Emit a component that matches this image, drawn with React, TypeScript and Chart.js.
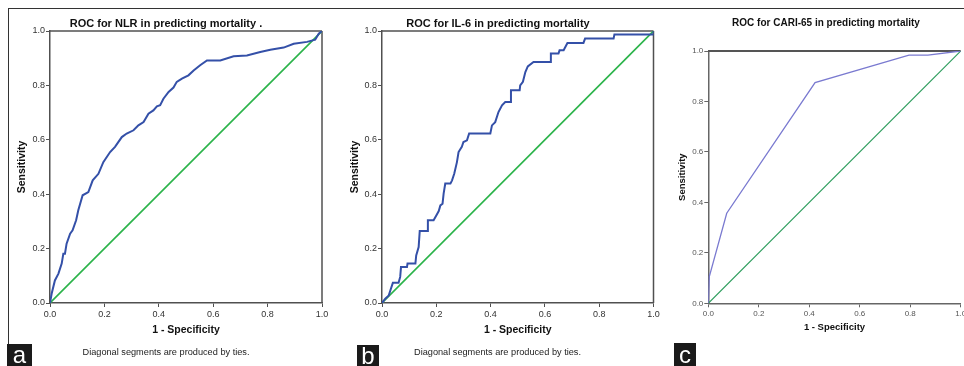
import React, { useEffect, useRef } from "react";
import { Chart, registerables } from "chart.js";

Chart.register(...registerables);

const FONT = "'Liberation Sans', Arial, Helvetica, sans-serif";

// ---------- data ----------
// Panel a: ROC for NLR
const nlrFpr = [0, 0.006, 0.018, 0.031, 0.043, 0.049, 0.055, 0.061, 0.074, 0.083, 0.096, 0.104, 0.12, 0.141, 0.157, 0.178, 0.196, 0.221, 0.239, 0.264, 0.282, 0.307, 0.325, 0.344, 0.362, 0.38, 0.393, 0.405, 0.417, 0.436, 0.454, 0.466, 0.485, 0.509, 0.528, 0.552, 0.577, 0.626, 0.675, 0.724, 0.773, 0.81, 0.859, 0.896, 0.945, 0.975, 0.988, 1];
const nlrTpr = [0, 0.034, 0.083, 0.108, 0.145, 0.181, 0.181, 0.218, 0.255, 0.267, 0.304, 0.341, 0.396, 0.408, 0.451, 0.475, 0.518, 0.555, 0.574, 0.61, 0.623, 0.635, 0.653, 0.665, 0.696, 0.708, 0.723, 0.727, 0.751, 0.776, 0.792, 0.813, 0.825, 0.837, 0.855, 0.874, 0.892, 0.892, 0.907, 0.91, 0.923, 0.931, 0.939, 0.953, 0.96, 0.968, 0.99, 1];

// Panel b: ROC for IL-6
const il6Fpr = [0, 0.012, 0.025, 0.031, 0.04, 0.061, 0.067, 0.07, 0.092, 0.094, 0.123, 0.126, 0.135, 0.139, 0.166, 0.169, 0.19, 0.2, 0.209, 0.215, 0.223, 0.227, 0.233, 0.252, 0.258, 0.266, 0.276, 0.282, 0.294, 0.3, 0.313, 0.321, 0.399, 0.405, 0.417, 0.429, 0.442, 0.454, 0.472, 0.475, 0.507, 0.509, 0.519, 0.528, 0.537, 0.558, 0.62, 0.622, 0.65, 0.654, 0.669, 0.683, 0.742, 0.748, 0.853, 0.856, 1, 1];
const il6Tpr = [0, 0.016, 0.028, 0.047, 0.074, 0.074, 0.096, 0.132, 0.132, 0.145, 0.145, 0.175, 0.206, 0.265, 0.265, 0.304, 0.304, 0.322, 0.338, 0.359, 0.365, 0.402, 0.439, 0.439, 0.451, 0.475, 0.518, 0.555, 0.574, 0.592, 0.598, 0.623, 0.623, 0.653, 0.665, 0.702, 0.727, 0.739, 0.739, 0.782, 0.782, 0.8, 0.813, 0.849, 0.87, 0.886, 0.886, 0.917, 0.917, 0.929, 0.929, 0.956, 0.956, 0.972, 0.972, 0.987, 0.987, 1];

// Panel c: ROC for CARI-65
const cariFpr = [0, 0.004, 0.073, 0.423, 0.795, 0.87, 1];
const cariTpr = [0, 0.106, 0.357, 0.875, 0.984, 0.984, 1];

// reference diagonal
const diagFpr = [0, 1];
const diagTpr = [0, 1];

const chartTitles = [
  "ROC for NLR in predicting mortality .",
  "ROC for IL-6 in predicting mortality",
  "ROC for CARI-65 in predicting mortality",
];
const panelLetters = ["a", "b", "c"];
const xAxisTitle = "1 - Specificity";
const yAxisTitle = "Sensitivity";
const footnote = "Diagonal segments are produced by ties.";
const axisMin = 0;
const axisMax = 1;
const axisStep = 0.2;

const toPoints = (xs: number[], ys: number[]) => xs.map((x, i) => ({ x, y: ys[i] }));

type PanelProps = {
  left: number;
  width: number;
  plot: { l: number; r: number; t: number; b: number };
  yTitleCx: number;
  xTitleCy: number;
  curveX: number[];
  curveY: number[];
  curveColor: string;
  curveWidth: number;
  diagColor: string;
  diagWidth: number;
  tickSize: number;
  tickColor: string;
  axisTitleSize: number;
  axisColor: string;
  axisWidth: number;
  boxTop: { color: string; width: number } | null;
  boxRight: { color: string; width: number } | null;
};

const H = 366;

function Panel(p: PanelProps) {
  const ref = useRef<HTMLCanvasElement | null>(null);
  useEffect(() => {
    if (!ref.current) return;
    const lh = p.axisTitleSize * 1.2;
    const padLeft = p.yTitleCx - p.left - lh / 2;
    const yWidth = p.plot.l - p.left - padLeft;
    const padBottom = H - p.xTitleCy - lh / 2;
    const xHeight = H - padBottom - p.plot.b;
    const padRight = p.left + p.width - p.plot.r;

    const framePlugin = {
      id: "frameLines",
      beforeDatasetsDraw(chart: any) {
        const { ctx, chartArea } = chart;
        ctx.save();
        if (p.boxTop) {
          ctx.strokeStyle = p.boxTop.color;
          ctx.lineWidth = p.boxTop.width;
          ctx.beginPath();
          ctx.moveTo(chartArea.left, chartArea.top);
          ctx.lineTo(chartArea.right, chartArea.top);
          ctx.stroke();
        }
        if (p.boxRight) {
          ctx.strokeStyle = p.boxRight.color;
          ctx.lineWidth = p.boxRight.width;
          ctx.beginPath();
          ctx.moveTo(chartArea.right, chartArea.top);
          ctx.lineTo(chartArea.right, chartArea.bottom);
          ctx.stroke();
        }
        ctx.restore();
      },
    };

    const tickFont = { family: FONT, size: p.tickSize };
    const titleFont = { family: FONT, size: p.axisTitleSize, weight: "bold" as const, lineHeight: 1.2 };

    const chart = new Chart(ref.current, {
      type: "scatter",
      data: {
        datasets: [
          {
            data: toPoints(p.curveX, p.curveY),
            showLine: true,
            borderColor: p.curveColor,
            borderWidth: p.curveWidth,
            pointRadius: 0,
            tension: 0,
            fill: false,
          },
          {
            data: toPoints(diagFpr, diagTpr),
            showLine: true,
            borderColor: p.diagColor,
            borderWidth: p.diagWidth,
            pointRadius: 0,
            tension: 0,
            fill: false,
          },
        ],
      },
      options: {
        animation: false,
        responsive: false,
        devicePixelRatio: 1,
        layout: { padding: { left: padLeft, right: padRight, top: p.plot.t, bottom: padBottom } },
        plugins: { legend: { display: false }, tooltip: { enabled: false }, title: { display: false } },
        scales: {
          x: {
            type: "linear",
            min: axisMin,
            max: axisMax,
            ticks: {
              stepSize: axisStep,
              font: tickFont,
              color: p.tickColor,
              padding: 2,
              maxRotation: 0,
              callback: (v: any) => Number(v).toFixed(1),
            },
            grid: { display: true, drawOnChartArea: false, drawTicks: true, tickLength: 4, color: p.axisColor, lineWidth: 1 },
            border: { display: true, color: p.axisColor, width: p.axisWidth },
            title: { display: true, text: xAxisTitle, font: titleFont, color: "#111", padding: 0 },
            afterFit: (s: any) => {
              s.height = xHeight;
              s.paddingLeft = 0;
              s.paddingRight = 0;
            },
          },
          y: {
            type: "linear",
            min: axisMin,
            max: axisMax,
            ticks: {
              stepSize: axisStep,
              font: tickFont,
              color: p.tickColor,
              padding: 1,
              callback: (v: any) => Number(v).toFixed(1),
            },
            grid: { display: true, drawOnChartArea: false, drawTicks: true, tickLength: 4, color: p.axisColor, lineWidth: 1 },
            border: { display: true, color: p.axisColor, width: p.axisWidth },
            title: { display: true, text: yAxisTitle, font: titleFont, color: "#111", padding: 0 },
            afterFit: (s: any) => {
              s.width = yWidth;
              s.paddingTop = 0;
              s.paddingBottom = 0;
            },
          },
        },
      } as any,
      plugins: [framePlugin],
    });
    return () => chart.destroy();
  }, []);
  return (
    <canvas
      ref={ref}
      width={p.width}
      height={H}
      style={{ position: "absolute", left: p.left, top: 0, width: p.width, height: H }}
    />
  );
}

function CenterText(props: { cx: number; cy: number; size: number; bold?: boolean; color?: string; text: string }) {
  const lh = Math.round(props.size * 1.4);
  return (
    <div
      style={{
        position: "absolute",
        left: props.cx,
        top: props.cy - lh / 2,
        transform: "translateX(-50%)",
        whiteSpace: "nowrap",
        fontFamily: FONT,
        fontSize: props.size,
        fontWeight: props.bold ? "bold" : "normal",
        lineHeight: lh + "px",
        color: props.color || "#111",
      }}
    >
      {props.text}
    </div>
  );
}

function Letter(props: { left: number; top: number; w: number; h: number; text: string }) {
  return (
    <div
      style={{
        position: "absolute",
        left: props.left,
        top: props.top,
        width: props.w,
        height: props.h,
        background: "#1a1a1a",
        color: "#fff",
        fontFamily: FONT,
        fontSize: 24,
        lineHeight: props.h + "px",
        textAlign: "center",
      }}
    >
      {props.text}
    </div>
  );
}

export default function App() {
  return (
    <div style={{ position: "absolute", left: 0, top: 0, width: 964, height: H, background: "#fff", overflow: "hidden" }}>
      <div
        style={{
          position: "absolute",
          left: 7.5,
          top: 7.5,
          width: 970,
          height: 400,
          borderTop: "1.5px solid #333",
          borderLeft: "1.5px solid #333",
        }}
      />
      <Panel
        left={9}
        width={329}
        plot={{ l: 50, r: 322, t: 31, b: 303 }}
        yTitleCx={22.5}
        xTitleCy={330.5}
        curveX={nlrFpr}
        curveY={nlrTpr}
        curveColor="#3450a8"
        curveWidth={2}
        diagColor="#2bb34a"
        diagWidth={1.6}
        tickSize={9}
        tickColor="#333"
        axisTitleSize={10.5}
        axisColor="#505050"
        axisWidth={1.5}
        boxTop={{ color: "#505050", width: 1.5 }}
        boxRight={{ color: "#505050", width: 1.5 }}
      />
      <Panel
        left={338}
        width={330}
        plot={{ l: 382, r: 653.5, t: 31, b: 303 }}
        yTitleCx={355}
        xTitleCy={330.5}
        curveX={il6Fpr}
        curveY={il6Tpr}
        curveColor="#3450a8"
        curveWidth={2}
        diagColor="#2bb34a"
        diagWidth={1.6}
        tickSize={9}
        tickColor="#333"
        axisTitleSize={10.5}
        axisColor="#505050"
        axisWidth={1.5}
        boxTop={{ color: "#505050", width: 1.5 }}
        boxRight={{ color: "#505050", width: 1.5 }}
      />
      <Panel
        left={668}
        width={296}
        plot={{ l: 708.3, r: 960.7, t: 51, b: 303.3 }}
        yTitleCx={682}
        xTitleCy={327}
        curveX={cariFpr}
        curveY={cariTpr}
        curveColor="#7a7ad0"
        curveWidth={1.3}
        diagColor="#2e9e5e"
        diagWidth={1.1}
        tickSize={8}
        tickColor="#555"
        axisTitleSize={9.5}
        axisColor="#666"
        axisWidth={1.5}
        boxTop={{ color: "#555", width: 2 }}
        boxRight={null}
      />
      <CenterText cx={166} cy={23.5} size={11} bold text={chartTitles[0]} />
      <CenterText cx={498} cy={23.5} size={11} bold text={chartTitles[1]} />
      <CenterText cx={826} cy={22.5} size={10} bold text={chartTitles[2]} />
      <CenterText cx={166} cy={352} size={9.2} color="#222" text={footnote} />
      <CenterText cx={497.5} cy={352} size={9.2} color="#222" text={footnote} />
      <Letter left={7} top={344} w={25} h={22} text={panelLetters[0]} />
      <Letter left={357} top={345} w={22} h={21} text={panelLetters[1]} />
      <Letter left={674} top={343} w={22} h={23} text={panelLetters[2]} />
    </div>
  );
}
